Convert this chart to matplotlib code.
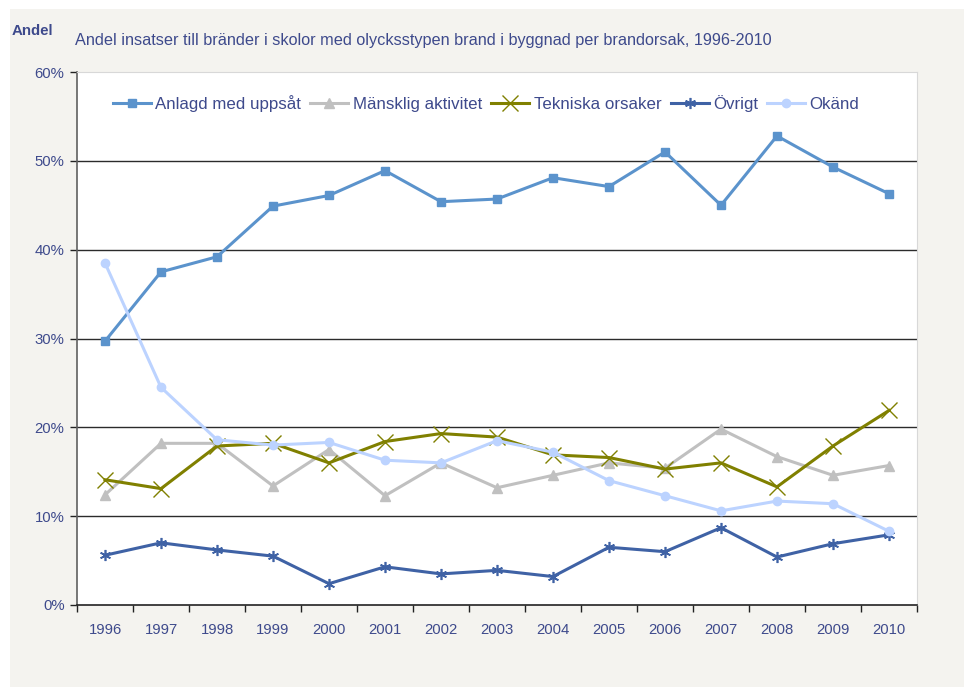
import numpy as np
import matplotlib.pyplot as plt
from matplotlib.patches import Rectangle
from matplotlib.ticker import FuncFormatter, FixedLocator

years = [str(y) for y in range(1996, 2011)]

anlagd = [29.7, 37.5, 39.2, 44.9, 46.1, 48.9, 45.4, 45.7, 48.1, 47.1, 51.0, 45.0, 52.8, 49.3, 46.3]
mansklig = [12.4, 18.2, 18.2, 13.4, 17.5, 12.3, 16.0, 13.2, 14.6, 16.0, 15.4, 19.8, 16.7, 14.6, 15.7]
tekniska = [14.1, 13.1, 17.9, 18.2, 16.0, 18.4, 19.3, 18.9, 16.9, 16.6, 15.3, 16.0, 13.3, 17.9, 21.9]
ovrigt = [5.6, 7.0, 6.2, 5.5, 2.4, 4.3, 3.5, 3.9, 3.2, 6.5, 6.0, 8.7, 5.4, 6.9, 7.9]
okand = [38.5, 24.5, 18.6, 18.0, 18.3, 16.3, 16.0, 18.5, 17.2, 14.0, 12.3, 10.6, 11.7, 11.4, 8.3]

text_col = '#3E4A8C'
plt.rcParams['font.family'] = ['Liberation Sans', 'DejaVu Sans']

W, H = 964, 687
fig = plt.figure(figsize=(W / 100, H / 100), dpi=100)
fig.patch.set_facecolor('white')
# grå diagramyta bakom axlarna
fig.patches.append(Rectangle((10 / W, 0), 1, 1 - 9 / H, transform=fig.transFigure,
                             facecolor='#F4F3EF', edgecolor='none', zorder=-5))

ax = fig.add_axes([77 / W, 1 - 605 / H, (917 - 77) / W, (605 - 72) / H])
ax.set_zorder(2)
ax.set_facecolor('white')

x = np.arange(len(years))
series = [
    ('Anlagd med uppsåt', anlagd, '#5B93CC', 's', 6, None),
    ('Mänsklig aktivitet', mansklig, '#C0C0C0', '^', 7, None),
    ('Tekniska orsaker', tekniska, '#808000', 'x', 11, 1.0),
    ('Övrigt', ovrigt, '#3F62A5', (6, 2, 0), 8, 1.2),
    ('Okänd', okand, '#BCD3FF', 'o', 6, None),
]
for label, vals, col, mk, ms, mew in series:
    kw = dict(color=col, lw=2.2, marker=mk, markersize=ms, label=label,
              markerfacecolor=col, markeredgecolor=col, zorder=3)
    if mew is not None:
        kw['markeredgewidth'] = mew
    ax.plot(x, vals, **kw)

ax.set_xlim(-0.5, len(years) - 0.5)
ax.set_ylim(0, 60)
ax.set_yticks(np.arange(0, 61, 10))
ax.yaxis.set_major_formatter(FuncFormatter(lambda v, p: f'{v:.0f}%'))
for v in range(10, 60, 10):
    ax.axhline(v, color='#2b2b2b', lw=1.0, zorder=1)

ax.set_xticks(x)
ax.set_xticklabels(years)
ax.xaxis.set_minor_locator(FixedLocator(np.arange(-0.5, len(years), 1.0)))
ax.tick_params(axis='x', which='major', length=0, pad=13, labelsize=10.7, labelcolor=text_col)
ax.tick_params(axis='x', which='minor', length=5, width=1, color='#222222', direction='out')
ax.tick_params(axis='y', length=5, width=1, color='#222222', labelsize=10.7,
               labelcolor=text_col, pad=4)

ax.spines['left'].set_color('#606060')
ax.spines['left'].set_linewidth(1.2)
ax.spines['bottom'].set_color('#222222')
ax.spines['bottom'].set_linewidth(1.2)
ax.spines['top'].set_color('#D8D8D8')
ax.spines['right'].set_color('#D8D8D8')

leg = ax.legend(loc='upper center', bbox_to_anchor=(0.487, 0.985), ncol=5, frameon=False,
                fontsize=12.2, handlelength=2.25, handletextpad=0.25, columnspacing=0.55)
for t in leg.get_texts():
    t.set_color(text_col)

fig.text(12 / W, 1 - 31 / H, 'Andel', fontsize=10.8, fontweight='bold', color=text_col,
         va='center', ha='left')
fig.text(75 / W, 1 - 40 / H, 'Andel insatser till bränder i skolor med olycksstypen brand i byggnad per brandorsak, 1996-2010',
         fontsize=11.7, color=text_col, va='center', ha='left')

fig.savefig('out.png', dpi=100)
